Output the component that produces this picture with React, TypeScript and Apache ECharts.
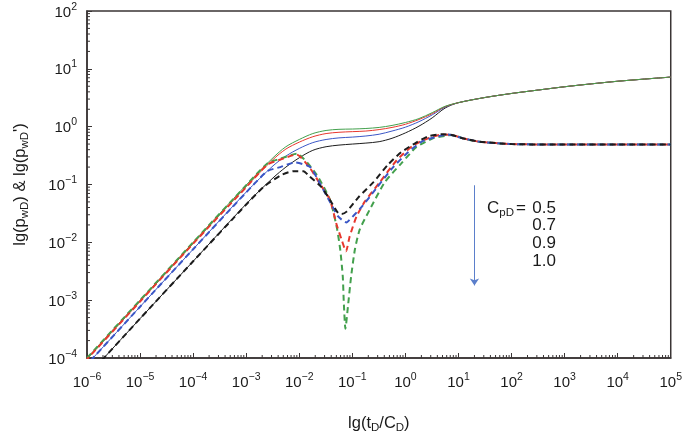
import React, { useEffect, useRef } from 'react';
import * as echarts from 'echarts';

// ---- data ----
const tSolid = [1e-6, 1e-5, 1e-4, 1e-3, 0.0032, 0.0056, 0.01, 0.018, 0.032, 0.056, 0.1, 0.18, 0.32, 0.56, 1, 1.8, 3.2, 5.6, 10, 32, 100, 320, 1000, 3200, 10000, 32000, 100000];
const pGreen = [1e-4, 1e-3, 0.01, 0.098, 0.29, 0.45, 0.6, 0.76, 0.86, 0.9, 0.91, 0.93, 0.97, 1.05, 1.18, 1.38, 1.75, 2.25, 2.6, 3.2, 3.75, 4.3, 4.9, 5.5, 6.1, 6.65, 7.2];
const pRed = [9.5e-5, 9.5e-4, 0.0095, 0.092, 0.27, 0.41, 0.54, 0.67, 0.76, 0.8, 0.82, 0.84, 0.89, 0.97, 1.1, 1.33, 1.68, 2.22, 2.6, 3.2, 3.75, 4.3, 4.9, 5.5, 6.1, 6.65, 7.2];
const pBlue = [7.7e-5, 7.7e-4, 0.0076, 0.074, 0.21, 0.31, 0.42, 0.53, 0.6, 0.64, 0.66, 0.69, 0.74, 0.84, 0.98, 1.22, 1.6, 2.18, 2.6, 3.2, 3.75, 4.3, 4.9, 5.5, 6.1, 6.65, 7.2];
const pBlack = [4.8e-5, 4.8e-4, 0.0047, 0.046, 0.13, 0.2, 0.29, 0.39, 0.45, 0.48, 0.5, 0.52, 0.55, 0.63, 0.78, 1.02, 1.42, 2.1, 2.6, 3.2, 3.75, 4.3, 4.9, 5.5, 6.1, 6.65, 7.2];

const tDGreen = [1e-6, 1e-5, 1e-4, 1e-3, 0.0025, 0.0044, 0.0089, 0.021, 0.038, 0.051, 0.059, 0.066, 0.069, 0.074, 0.083, 0.095, 0.112, 0.138, 0.21, 0.41, 0.83, 1.6, 3.3, 5.9, 8, 12, 25, 100, 1000, 10000, 100000];
const dGreen = [1e-4, 1e-3, 0.01, 0.097, 0.23, 0.28, 0.34, 0.15, 0.054, 0.018, 0.0076, 0.0026, 0.00093, 0.00032, 0.00081, 0.0026, 0.0076, 0.0167, 0.036, 0.11, 0.23, 0.44, 0.63, 0.7, 0.72, 0.63, 0.55, 0.5, 0.49, 0.49, 0.49];

const tDRed = [1e-6, 1e-5, 1e-4, 1e-3, 0.0025, 0.0044, 0.0089, 0.016, 0.025, 0.038, 0.05, 0.063, 0.076, 0.089, 0.12, 0.17, 0.33, 0.68, 1.38, 2.8, 5, 7.5, 12, 25, 100, 1000, 10000, 100000];
const dRed = [9.5e-5, 9.5e-4, 0.0095, 0.09, 0.22, 0.27, 0.33, 0.19, 0.1, 0.054, 0.021, 0.011, 0.007, 0.0126, 0.028, 0.05, 0.11, 0.26, 0.47, 0.64, 0.73, 0.72, 0.63, 0.55, 0.5, 0.49, 0.49, 0.49];

const tDBlue = [1e-6, 1e-5, 1e-4, 1e-3, 0.0025, 0.0044, 0.0083, 0.016, 0.025, 0.038, 0.054, 0.078, 0.083, 0.15, 0.28, 0.59, 1.12, 2.1, 4.4, 6.3, 12, 25, 100, 1000, 10000, 100000];
const dBlue = [7.7e-5, 7.7e-4, 0.0076, 0.073, 0.17, 0.2, 0.24, 0.2, 0.1, 0.05, 0.028, 0.022, 0.023, 0.041, 0.085, 0.2, 0.36, 0.56, 0.69, 0.73, 0.63, 0.55, 0.5, 0.49, 0.49, 0.49];

const tDBlack = [1e-6, 1e-5, 1e-4, 1e-3, 0.0021, 0.0044, 0.0078, 0.012, 0.015, 0.026, 0.038, 0.054, 0.063, 0.078, 0.13, 0.25, 0.47, 0.83, 1.6, 2.8, 5, 7.5, 12, 25, 100, 1000, 10000, 100000];
const dBlack = [4.8e-5, 4.8e-4, 0.0047, 0.045, 0.09, 0.143, 0.17, 0.17, 0.143, 0.091, 0.054, 0.032, 0.031, 0.034, 0.06, 0.11, 0.22, 0.36, 0.53, 0.69, 0.74, 0.72, 0.63, 0.55, 0.5, 0.49, 0.49, 0.49];

const cpdLabels = ['0.5', '0.7', '0.9', '1.0'];
const arrowStart = [20, 0.097];
const arrowEnd = [20, 0.0018];

const xMin = 1e-6, xMax = 1e5, yMin = 1e-4, yMax = 100;
const minorMult = [2, 3, 4, 5, 6, 7, 8, 9];

const COLORS = { green: '#43a04d', red: '#e8372d', blue: '#3a56c6', black: '#1c1c1c' };
const FONT = 'Liberation Sans, Arial, sans-serif';
const AXIS = '#3a3535';

const zip = (a: number[], b: number[]) => a.map((v, i) => [v, b[i]]);

function supLabel(v: number) {
  const e = Math.round(Math.log10(v));
  const s = e < 0 ? '\u2212' + (-e) : String(e);
  return '{b|10}{s|' + s + '}';
}

const labelRich = {
  b: { fontSize: 15, lineHeight: 22, fontFamily: FONT, color: '#1a1a1a', verticalAlign: 'middle' },
  s: { fontSize: 10.5, lineHeight: 12, fontFamily: FONT, color: '#1a1a1a', verticalAlign: 'top' },
};

export default function App() {
  const ref = useRef<HTMLDivElement>(null);
  useEffect(() => {
    if (!ref.current) return;
    const chart = echarts.init(ref.current, null, { renderer: 'svg' });

    const xMinorTicks: number[][] = [];
    for (let e = -6; e < 5; e++) minorMult.forEach((m) => xMinorTicks.push([m * Math.pow(10, e), yMin]));
    const yMinorTicks: number[][] = [];
    for (let e = -4; e < 2; e++) minorMult.forEach((m) => yMinorTicks.push([xMin, m * Math.pow(10, e)]));

    const solid = (name: string, data: number[], color: string) => ({
      name, type: 'line', data: zip(tSolid, data), symbol: 'none', smooth: 0.3,
      lineStyle: { color, width: 1 }, z: 2,
    });
    const dashed = (name: string, t: number[], data: number[], color: string, offset: number) => ({
      name, type: 'line', data: zip(t, data), symbol: 'none', smooth: 0.2,
      lineStyle: { color, width: 2, type: [6, 4], dashOffset: offset }, z: 3,
    });

    const axisCommon = {
      logBase: 10, interval: 1,
      axisLine: { show: true, lineStyle: { color: AXIS, width: 1.5 } },
      axisTick: { show: true, inside: true, length: 5, lineStyle: { color: AXIS } },
      splitLine: { show: false },
      nameLocation: 'middle',
      nameTextStyle: {
        fontSize: 16.5, fontFamily: FONT, color: '#1a1a1a', lineHeight: 22,
        rich: { sub: { fontSize: 11.5, fontFamily: FONT, color: '#1a1a1a', verticalAlign: 'bottom', lineHeight: 13 } },
      },
    };

    const option: any = {
      animation: false,
      grid: { left: 86, top: 8, right: 13, bottom: 77, show: true, borderColor: AXIS, borderWidth: 1.5, backgroundColor: 'transparent' },
      xAxis: {
        ...axisCommon, type: 'log', min: xMin, max: xMax,
        axisLabel: { formatter: supLabel, rich: labelRich, margin: 12, interval: 0, showMinLabel: true, showMaxLabel: true, hideOverlap: false },
        name: 'lg(t{sub|D}/C{sub|D})', nameGap: 53,
      },
      yAxis: {
        ...axisCommon, type: 'log', min: yMin, max: yMax,
        axisLabel: { formatter: supLabel, rich: labelRich, margin: 10, interval: 0, showMinLabel: true, showMaxLabel: true },
        name: "lg(p{sub|wD}) & lg(p{sub|wD}')", nameGap: 57,
      },
      series: [
        solid('pwD C=1.0', pBlack, COLORS.black),
        solid('pwD C=0.9', pBlue, COLORS.blue),
        solid('pwD C=0.7', pRed, COLORS.red),
        solid('pwD C=0.5', pGreen, COLORS.green),
        dashed("pwD' C=0.5", tDGreen, dGreen, COLORS.green, 0),
        dashed("pwD' C=0.7", tDRed, dRed, COLORS.red, 2.5),
        dashed("pwD' C=0.9", tDBlue, dBlue, COLORS.blue, 5),
        dashed("pwD' C=1.0", tDBlack, dBlack, COLORS.black, 7.5),
        {
          type: 'custom', name: 'xminor', data: xMinorTicks, silent: true, clip: false, z: 5,
          renderItem: (_p: any, api: any) => {
            const pt = api.coord([api.value(0), api.value(1)]);
            return { type: 'line', shape: { x1: pt[0], y1: pt[1], x2: pt[0], y2: pt[1] - 3 }, style: { stroke: AXIS, lineWidth: 1 } };
          },
        },
        {
          type: 'custom', name: 'yminor', data: yMinorTicks, silent: true, clip: false, z: 5,
          renderItem: (_p: any, api: any) => {
            const pt = api.coord([api.value(0), api.value(1)]);
            return { type: 'line', shape: { x1: pt[0], y1: pt[1], x2: pt[0] + 3, y2: pt[1] }, style: { stroke: AXIS, lineWidth: 1 } };
          },
        },
        {
          type: 'line', name: 'arrow', data: [], symbol: 'none',
          markLine: {
            silent: true, symbol: ['none', 'arrow'], symbolSize: 7,
            label: { show: false },
            lineStyle: { color: '#5b7fcb', width: 1, type: 'solid' },
            data: [[{ coord: arrowStart }, { coord: arrowEnd }]],
          },
        },
      ],
      graphic: [
        { type: 'text', x: 487, y: 207, style: { text: 'C{s|pD}', font: '17px ' + FONT, fill: '#1a1a1a', verticalAlign: 'middle', rich: { s: { fontSize: 11.5, fontFamily: FONT, verticalAlign: 'bottom', lineHeight: 13 } }, lineHeight: 22 } },
        { type: 'text', x: 516, y: 207, style: { text: '=', font: '17px ' + FONT, fill: '#1a1a1a', verticalAlign: 'middle' } },
        ...cpdLabels.map((s, i) => ({
          type: 'text', x: 556, y: 207 + i * 17.7,
          style: { text: s, font: '17px ' + FONT, fill: '#1a1a1a', align: 'right', verticalAlign: 'middle' },
        })),
      ],
    };
    chart.setOption(option);
    return () => chart.dispose();
  }, []);
  return <div ref={ref} style={{ position: 'fixed', left: 0, top: 0, width: 685, height: 438 }} />;
}
